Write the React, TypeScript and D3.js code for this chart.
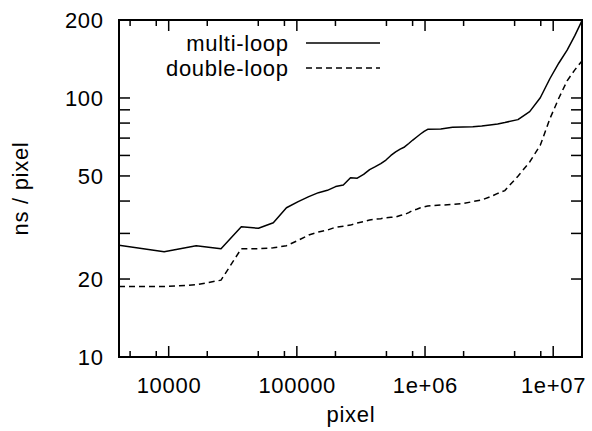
import React from "react";
import * as d3 from "d3";

const pixels = [
  4096, 9216, 16384, 25600, 36864, 50176, 65536, 82944, 102400, 123904,
  147456, 173056, 200704, 230400, 262144, 295936, 331776, 369664, 409600,
  451584, 495616, 541696, 589824, 640000, 692224, 746496, 802816, 861184,
  921600, 984064, 1048576, 1327104, 1638400, 1982464, 2359296, 2768896,
  3211264, 3686400, 4194304, 5308416, 6553600, 7929856, 9437184, 11075584,
  12845056, 14745600, 16777216,
];

const multiLoop = [
  27.0, 25.5, 26.9, 26.2, 31.8, 31.4, 33.0, 37.7, 39.8, 41.6,
  43.1, 44.0, 45.5, 46.1, 49.2, 49.0, 50.7, 52.9, 54.3,
  55.8, 57.6, 60.0, 61.9, 63.5, 64.7, 66.7, 68.8, 70.7,
  72.6, 74.3, 75.7, 75.9, 77.1, 77.3, 77.5, 78.0,
  78.7, 79.4, 80.4, 82.5, 88.6, 100.2, 118.9, 136.5,
  153, 174, 199,
];

const doubleLoop = [
  18.7, 18.7, 19.0, 19.8, 26.2, 26.2, 26.4, 26.9, 28.2, 29.6,
  30.4, 30.9, 31.7, 32.0, 32.3, 32.9, 33.3, 33.8, 34.1,
  34.2, 34.5, 34.6, 34.7, 35.2, 35.5, 36.1, 36.8, 37.2,
  37.7, 38.0, 38.3, 38.6, 38.8, 39.1, 39.8, 40.4,
  41.5, 42.8, 43.9, 49.9, 56.6, 65.7, 83.3, 100,
  116.5, 128.4, 139,
];

const xMajorTicks = [10000, 100000, 1000000, 10000000];
const xTickLabels = ["10000", "100000", "1e+06", "1e+07"];
const xMinorTicks = [5000, 8000, 20000, 50000, 80000, 200000, 500000, 800000, 2000000, 5000000, 8000000];
const yMajorTicks = [10, 20, 50, 100, 200];
const yTickLabels = ["10", "20", "50", "100", "200"];
const yMinorTicks = [30, 40, 60, 70, 80, 90];

const seriesNames = ["multi-loop", "double-loop"];

const W = 592;
const H = 431;
const left = 119;
const right = 582;
const top = 20;
const bottom = 357;
const FONT = "'Liberation Sans', Arial, Helvetica, sans-serif";
const FS = 22;
const LS = 0.7;

export default function App() {
  const x = d3.scaleLog().domain([4096, 16777216]).range([left, right]);
  const y = d3.scaleLog().domain([10, 200]).range([bottom, top]);

  const line = d3
    .line<[number, number]>()
    .x((d) => x(d[0]))
    .y((d) => y(d[1]));

  const multiPts = pixels.map((p, i) => [p, multiLoop[i]] as [number, number]);
  const doublePts = pixels.map((p, i) => [p, doubleLoop[i]] as [number, number]);

  const tickLen = 11;
  const minorLen = 6;
  const textStyle = { letterSpacing: `${LS}px` };

  return (
    <svg
      width={W}
      height={H}
      style={{ position: "absolute", left: 0, top: 0, background: "#fff" }}
      fontFamily={FONT}
    >
      <rect x={0} y={0} width={W} height={H} fill="#fff" />
      <defs>
        <clipPath id="plot">
          <rect x={left} y={top - 2} width={right - left + 2} height={bottom - top + 2} />
        </clipPath>
      </defs>

      {xMajorTicks.map((t, i) => (
        <g key={"xm" + t}>
          <line x1={x(t)} x2={x(t)} y1={bottom} y2={bottom - tickLen} stroke="#000" strokeWidth={1.5} />
          <line x1={x(t)} x2={x(t)} y1={top} y2={top + tickLen} stroke="#000" strokeWidth={1.5} />
          <text x={x(t) + LS / 2} y={bottom + 36} textAnchor="middle" fontSize={FS} fill="#000" style={textStyle}>
            {xTickLabels[i]}
          </text>
        </g>
      ))}
      {xMinorTicks.map((t) => (
        <g key={"xn" + t}>
          <line x1={x(t)} x2={x(t)} y1={bottom} y2={bottom - minorLen} stroke="#000" strokeWidth={1.5} />
          <line x1={x(t)} x2={x(t)} y1={top} y2={top + minorLen} stroke="#000" strokeWidth={1.5} />
        </g>
      ))}

      {yMajorTicks.map((t, i) => (
        <g key={"ym" + t}>
          <line x1={left} x2={left + tickLen} y1={y(t)} y2={y(t)} stroke="#000" strokeWidth={1.5} />
          <line x1={right} x2={right - tickLen} y1={y(t)} y2={y(t)} stroke="#000" strokeWidth={1.5} />
          <text x={left - 16 + LS} y={y(t)} dy="0.36em" textAnchor="end" fontSize={FS} fill="#000" style={textStyle}>
            {yTickLabels[i]}
          </text>
        </g>
      ))}
      {yMinorTicks.map((t) => (
        <g key={"yn" + t}>
          <line x1={left} x2={left + tickLen} y1={y(t)} y2={y(t)} stroke="#000" strokeWidth={1.5} />
          <line x1={right} x2={right - tickLen} y1={y(t)} y2={y(t)} stroke="#000" strokeWidth={1.5} />
        </g>
      ))}

      <g clipPath="url(#plot)">
        <path d={line(multiPts) || ""} fill="none" stroke="#000" strokeWidth={1.5} strokeLinejoin="round" />
        <path d={line(doublePts) || ""} fill="none" stroke="#000" strokeWidth={1.5} strokeDasharray="6,4" />
      </g>

      <rect x={left} y={top} width={right - left} height={bottom - top} fill="none" stroke="#000" strokeWidth={2} />

      <text x={288 + LS} y={43} dy="0.36em" textAnchor="end" fontSize={FS} fill="#000" style={textStyle}>{seriesNames[0]}</text>
      <line x1={306} x2={380} y1={43} y2={43} stroke="#000" strokeWidth={1.5} />
      <text x={288 + LS} y={68} dy="0.36em" textAnchor="end" fontSize={FS} fill="#000" style={textStyle}>{seriesNames[1]}</text>
      <line x1={306} x2={380} y1={68} y2={68} stroke="#000" strokeWidth={1.5} strokeDasharray="6,4" />

      <text x={(left + right) / 2 + LS / 2} y={422} textAnchor="middle" fontSize={FS} fill="#000" style={textStyle}>pixel</text>
      <text
        transform={`translate(28, ${(top + bottom) / 2}) rotate(-90)`}
        textAnchor="middle"
        fontSize={FS}
        fill="#000"
        style={textStyle}
      >
        ns / pixel
      </text>
    </svg>
  );
}
